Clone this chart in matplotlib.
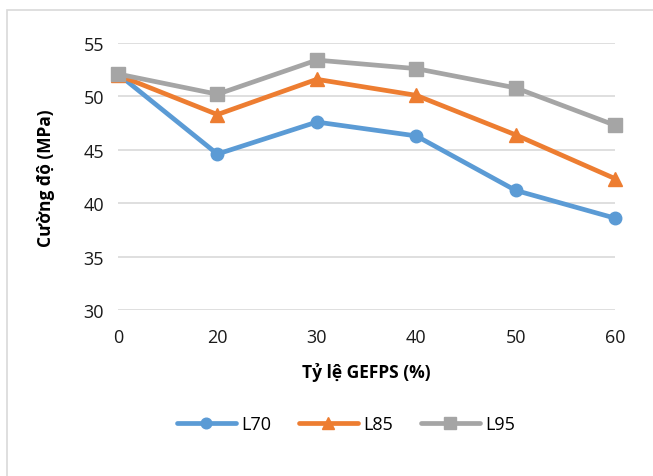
import matplotlib.pyplot as plt
from matplotlib.patches import Rectangle

ratio_labels = ["0", "20", "30", "40", "50", "60"]
l70 = [52.1, 44.6, 47.6, 46.3, 41.2, 38.6]
l85 = [52.0, 48.3, 51.6, 50.1, 46.4, 42.3]
l95 = [52.1, 50.2, 53.4, 52.6, 50.8, 47.3]

plt.rcParams['font.family'] = ['Open Sans', 'DejaVu Sans']

W, H = 653, 477
fig = plt.figure(figsize=(W / 100, H / 100), dpi=100)
ax = fig.add_axes([118 / W, 1 - 311 / H, (615 - 118) / W, (311 - 44) / H])

# outer chart frame (runs off the right and bottom edges)
fig.patches.append(Rectangle((7 / W, -0.1), 1.2, 1 - 11 / H + 0.1,
                             transform=fig.transFigure, fill=False,
                             edgecolor='#D9D9D9', linewidth=1.2))

x = list(range(len(ratio_labels)))
series = [
    (l70, 'L70', '#5B9BD5', 'o', 9),
    (l85, 'L85', '#ED7D31', '^', 10),
    (l95, 'L95', '#A5A5A5', 's', 10),
]
for vals, name, color, marker, ms in series:
    ax.plot(x, vals, color=color, linewidth=3.4, marker=marker,
            markersize=ms, label=name, clip_on=False, solid_capstyle='round')

ax.set_xlim(0, 5)
ax.set_ylim(30, 55)
ax.set_yticks([30, 35, 40, 45, 50, 55])
ax.set_xticks(x)
ax.set_xticklabels(ratio_labels)
ax.grid(axis='y', color='#D9D9D9', linewidth=1.2)
ax.set_axisbelow(True)
for s in ax.spines.values():
    s.set_visible(False)
ax.tick_params(length=0, labelsize=13, colors='#1a1a1a')
ax.tick_params(axis='y', pad=10)
ax.tick_params(axis='x', pad=13)

ax.set_ylabel('Cường độ (MPa)', fontsize=12.5, fontweight='bold', va='center')
ax.yaxis.set_label_coords(46 / W, 1 - 178 / H, transform=fig.transFigure)
ax.set_xlabel('Tỷ lệ GEFPS (%)', fontsize=12.5, fontweight='bold', va='center')
ax.xaxis.set_label_coords(366 / W, 1 - 373 / H, transform=fig.transFigure)

fig.legend(loc='center', bbox_to_anchor=(346 / W, 1 - 425 / H), ncol=3,
           frameon=False, fontsize=13, handlelength=3.3, columnspacing=1.5,
           handletextpad=0.3, markerscale=0.85)

fig.savefig('out.png', dpi=100)
